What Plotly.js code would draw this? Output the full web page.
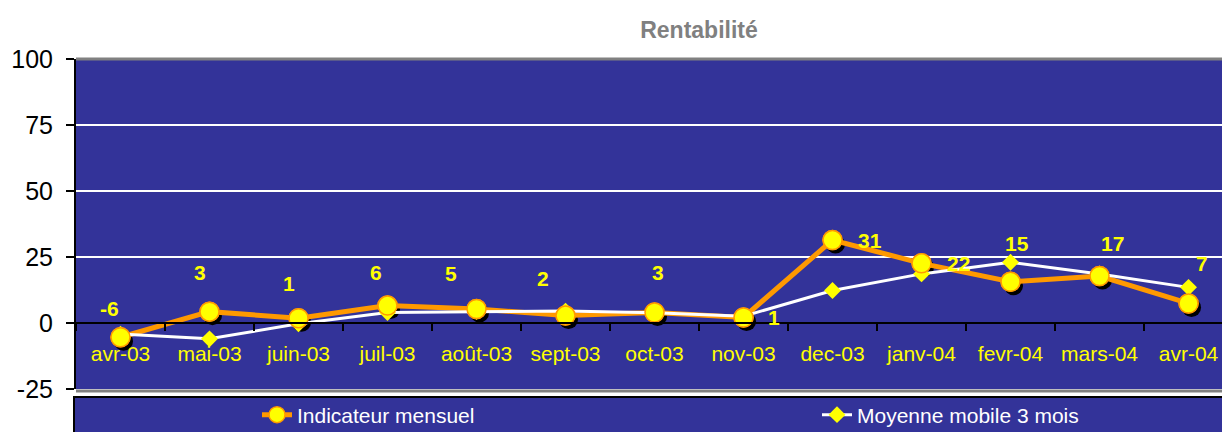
<!DOCTYPE html>
<html>
<head>
<meta charset="utf-8">
<script src="https://cdn.plot.ly/plotly-3.0.1.min.js"></script>
<style>html,body{margin:0;padding:0;background:#fff;}#chart{width:1222px;height:432px;}</style>
</head>
<body>
<div id="chart"></div>
<script>
const months = ["avr-03","mai-03","juin-03","juil-03","août-03","sept-03","oct-03","nov-03","dec-03","janv-04","fevr-04","mars-04","avr-04"];
const indicateur = [-5.4, 4.3, 1.8, 6.6, 5.3, 2.8, 4.0, 2.1, 31.4, 22.6, 15.6, 17.8, 7.4];
const indicateurLabels = ["-6","3","1","6","5","2","3","1","31","22","15","17","7"];
const moyenne = [-4.2, -6.0, -0.3, 4.0, 4.3, 4.5, 3.9, 2.6, 12.3, 18.6, 23.0, 18.6, 13.5];
const yTicks = [-25, 0, 25, 50, 75, 100];

// label offsets in px (style)
const labelShift = [[-11,29],[-10,39],[-10,35],[-12,33],[-26,36],[-23,37],[3,40],[30,0],[37,0],[37,0],[6,38],[13,33],[13,40]];

const FONT = "Liberation Sans, Arial, sans-serif";
const ORANGE = "#FF9900", YELLOW = "#FFFF00", BG = "#333399";

const traces = [
  {x: months, y: indicateur, mode: "markers", showlegend: false, hoverinfo: "skip",
   marker: {symbol: "circle", size: 19, color: "#000000"}},
  {x: months, y: indicateur, name: "Indicateur mensuel", mode: "lines+markers",
   line: {color: ORANGE, width: 5},
   marker: {symbol: "circle", size: 19, color: YELLOW, line: {color: ORANGE, width: 1.5}}},
  {x: months, y: moyenne, name: "Moyenne mobile 3 mois", mode: "lines+markers",
   line: {color: "#FFFFFF", width: 3},
   marker: {symbol: "diamond", size: 13, color: YELLOW}},
  {x: months, y: indicateur, mode: "markers", showlegend: false, hoverinfo: "skip",
   marker: {symbol: "circle", size: 19, color: YELLOW, line: {color: ORANGE, width: 1.5}}}
];

const annotations = months.map((m, i) => ({
  x: m, y: indicateur[i], xref: "x", yref: "y", text: indicateurLabels[i], showarrow: false,
  xshift: labelShift[i][0], yshift: labelShift[i][1],
  font: {family: FONT, size: 21, color: YELLOW, weight: "bold"}
}));

const layout = {
  width: 1222, height: 432,
  margin: {l: 76, r: 0, t: 59, b: 43, pad: 0, autoexpand: false},
  paper_bgcolor: "#FFFFFF", plot_bgcolor: BG,
  title: {text: "Rentabilité", x: 699/1222, xref: "container", xanchor: "center",
          y: 1 - 30/432, yref: "container", yanchor: "middle",
          font: {family: FONT, size: 23, color: "#808080", weight: "bold"}},
  xaxis: {type: "category", range: [-0.5, 12.376], anchor: "free", position: 0.2,
          showline: true, linecolor: "#000000", linewidth: 2,
          ticks: "outside", tickson: "boundaries", ticklen: 7, tickwidth: 2, tickcolor: "#000000",
          ticklabelstandoff: 12,
          showgrid: false, zeroline: false, automargin: false,
          tickfont: {family: FONT, size: 21, color: YELLOW}},
  yaxis: {range: [-25, 100], tickvals: yTicks, ticktext: yTicks.map(String),
          showline: true, linecolor: "#000000", linewidth: 2,
          ticks: "outside", ticklen: 8, tickwidth: 2, tickcolor: "#000000",
          ticklabelstandoff: 8,
          showgrid: true, gridcolor: "#FFFFFF", gridwidth: 1.5, zeroline: false, automargin: false,
          tickfont: {family: FONT, size: 25, color: "#000000"}},
  showlegend: true,
  legend: {orientation: "h", x: (257-76)/1146, xanchor: "left", y: -(415-389)/330, yanchor: "middle",
           bgcolor: "rgba(0,0,0,0)", borderwidth: 0, entrywidthmode: "pixels", entrywidth: 515,
           font: {family: FONT, size: 21, color: "#FFFFFF"}},
  annotations: annotations,
  shapes: [
    {type: "line", xref: "paper", yref: "paper", x0: 0, x1: 1, y0: 1, y1: 1, line: {color: "#808080", width: 3}, layer: "above"},
    {type: "line", xref: "paper", yref: "paper", x0: 0, x1: 1, y0: -2/330, y1: -2/330, line: {color: "#808080", width: 3}, layer: "above"},
    {type: "rect", xref: "paper", yref: "paper", x0: -2/1146, x1: 1.01, y0: -(397-389)/330, y1: -(445-389)/330,
     fillcolor: BG, line: {color: "#000000", width: 2}, layer: "above"}
  ],
  hovermode: false
};

Plotly.newPlot("chart", traces, layout, {displayModeBar: false, staticPlot: true}).then(gd => {
  const tr = gd.querySelectorAll(".scatterlayer .trace");
  if (tr[0]) tr[0].setAttribute("transform", "translate(3,4)");
});
</script>
</body>
</html>
